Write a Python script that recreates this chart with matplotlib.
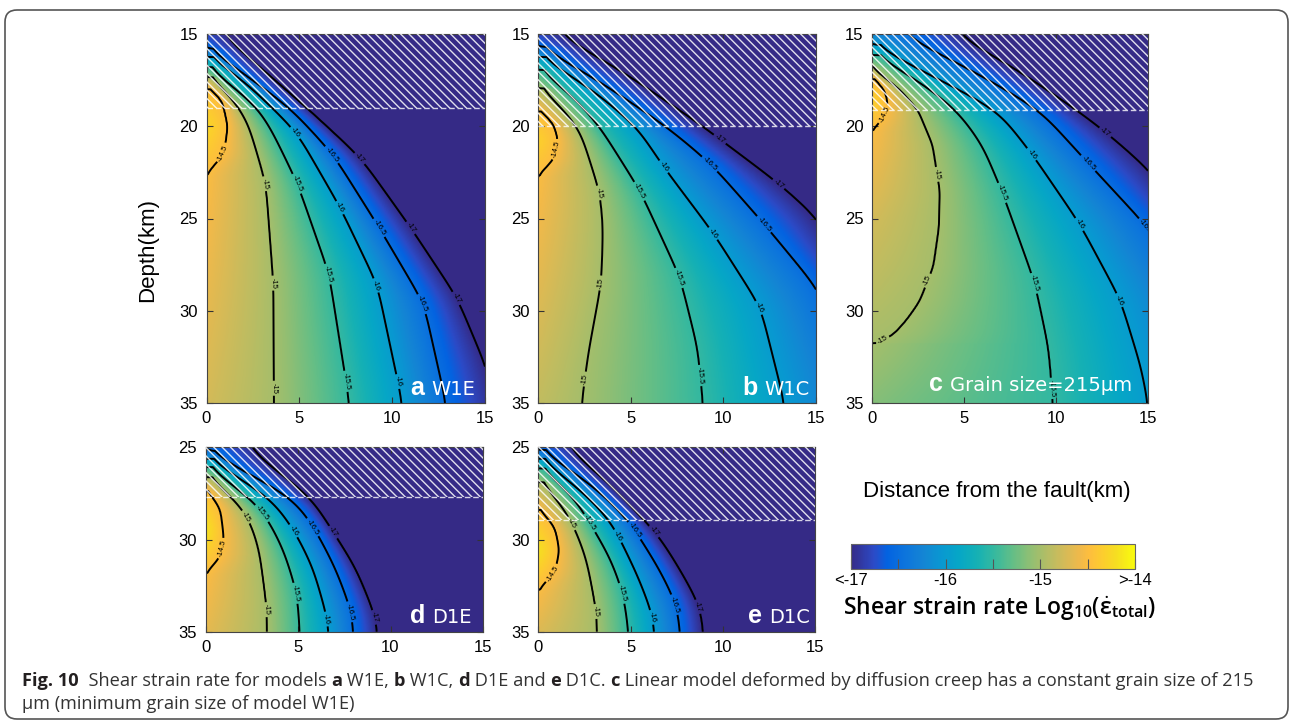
import numpy as np
import matplotlib.pyplot as plt
from matplotlib.colors import LinearSegmentedColormap
from matplotlib.patches import Rectangle, FancyBboxPatch
from matplotlib.transforms import IdentityTransform

plt.rcParams['font.family'] = ['Liberation Sans', 'DejaVu Sans']
plt.rcParams['hatch.linewidth'] = 1.0
plt.rcParams['mathtext.default'] = 'regular'
plt.rcParams['contour.negative_linestyle'] = 'solid'

W, H = 1290, 721
LEVELS = [-17.0, -16.5, -16.0, -15.5, -15.0, -14.5]

# parula (MATLAB) colour anchors
parula_pos = [0, 5, 8, 12, 16, 20, 24, 28, 32, 36, 40, 44, 48, 51, 53, 56, 59, 63]
parula_rgb = [(0.2081, 0.1663, 0.5292), (0.1707, 0.2919, 0.7792), (0.0117, 0.3875, 0.8820),
              (0.0498, 0.4586, 0.8641), (0.0793, 0.5200, 0.8312), (0.0343, 0.5966, 0.8199),
              (0.0228, 0.6535, 0.7768), (0.0843, 0.6928, 0.7062), (0.2178, 0.7250, 0.6193),
              (0.3953, 0.7459, 0.5244), (0.5709, 0.7485, 0.4494), (0.7184, 0.7411, 0.3905),
              (0.8507, 0.7299, 0.3360), (0.9450, 0.7261, 0.2886), (0.9938, 0.7455, 0.2403),
              (0.9880, 0.8066, 0.1794), (0.9626, 0.8705, 0.1309), (0.9763, 0.9831, 0.0538)]

# --- values: strain rate at the fault (x=0) vs depth,
# --- and each contour as (depths, distances)
w1e_edge_z = [15, 15.8, 16.2, 16.8, 17.3, 17.8, 20.0, 22.6, 35]
w1e_edge_v = [-16.8, -16.5, -16.0, -15.5, -15.0, -14.5, -14.25, -14.5, -14.75]
w1e_lines = {
    -14.5: ([17.8, 18.6, 20.0, 21.5, 22.6], [0, 0.85, 1.15, 0.95, 0]),
    -15.0: ([17.3, 18.2, 19.7, 23.1, 28.5, 35], [0, 1.2, 2.2, 3.2, 3.6, 3.64]),
    -15.5: ([16.8, 18.0, 18.9, 20.2, 23.1, 28.0, 35], [0, 1.6, 2.7, 3.5, 4.9, 6.6, 7.7]),
    -16.0: ([16.2, 17.5, 20.3, 24.4, 28.6, 35], [0, 2.0, 4.85, 7.2, 9.2, 10.55]),
    -16.5: ([15.8, 17.0, 19.0, 21.5, 25.5, 29.6, 35], [0, 1.8, 4.5, 6.8, 9.3, 11.7, 12.9]),
    -17.0: ([15, 19.0, 21.7, 25.5, 29.3, 32.9, 36], [0.8, 5.4, 8.3, 11.0, 13.5, 15.0, 15.8]),
}

w1c_edge_z = [15, 15.7, 16.2, 16.9, 17.9, 19.1, 20.75, 22.65, 35]
w1c_edge_v = [-16.8, -16.5, -16.0, -15.5, -15.0, -14.5, -14.3, -14.5, -14.85]
w1c_lines = {
    -14.5: ([19.1, 19.8, 20.75, 21.8, 22.65], [0, 0.8, 1.08, 0.85, 0]),
    -15.0: ([17.9, 19.0, 20.2, 23.6, 25.5, 28.5, 32.3, 35], [0, 1.3, 2.25, 3.33, 3.5, 3.4, 2.7, 2.34]),
    -15.5: ([16.9, 18.5, 20.0, 23.5, 28.2, 32.0, 35], [0, 2.0, 3.3, 5.5, 7.66, 8.6, 8.9]),
    -16.0: ([16.2, 18.0, 20.0, 22.2, 25.8, 29.8, 35], [0, 2.9, 5.3, 6.76, 9.46, 12.0, 13.3]),
    -16.5: ([15.7, 17.5, 20.0, 22.0, 25.3, 28.7, 33, 36], [0, 3.2, 6.9, 9.3, 12.2, 15.0, 17, 18]),
    -17.0: ([15, 17.0, 20.0, 20.7, 23.1, 24.9, 30, 36], [1.0, 4.5, 8.9, 9.8, 13.0, 15.0, 18, 21]),
}

grain_edge_z = [15, 15.6, 16.1, 16.8, 17.3, 18.6, 20.2, 25, 31.8, 35]
grain_edge_v = [-16.2, -16.0, -15.5, -15.0, -14.5, -14.3, -14.5, -14.75, -15.0, -15.15]
grain_lines = {
    -14.5: ([17.3, 18.0, 18.8, 19.6, 20.2], [0, 0.7, 0.9, 0.65, 0]),
    -15.0: ([16.8, 18.0, 19.1, 21.0, 23.5, 25.5, 27.6, 29.5, 30.5, 31.5, 31.8],
            [0, 1.5, 2.5, 3.3, 3.7, 3.65, 3.35, 2.6, 1.9, 1.0, 0]),
    -15.5: ([16.1, 17.5, 19.1, 21.0, 23.6, 28.5, 32, 35], [0, 2.5, 4.6, 6.0, 7.1, 8.86, 9.6, 9.85]),
    -16.0: ([15.6, 17.5, 19.1, 21.5, 25.3, 29.4, 33, 36], [0, 3.7, 6.8, 8.7, 11.3, 13.5, 14.6, 15.2]),
    -16.5: ([15, 17.0, 19.1, 22.0, 25.5, 30, 36], [1.5, 5.5, 9.1, 11.75, 15.0, 18, 21]),
    -17.0: ([15, 17.0, 19.1, 20.3, 22.3, 27, 36], [4.5, 8.0, 11.1, 12.7, 15.0, 18.5, 24]),
}

d1e_edge_z = [25, 25.2, 25.6, 26.05, 26.6, 27.2, 29.5, 31.8, 35]
d1e_edge_v = [-16.6, -16.5, -16.0, -15.5, -15.0, -14.5, -14.15, -14.5, -14.65]
d1e_lines = {
    -14.5: ([27.2, 28.3, 30.0, 31.0, 31.8], [0, 0.8, 1.0, 0.8, 0]),
    -15.0: ([26.6, 27.7, 28.7, 30.5, 33.8, 35], [0, 1.5, 2.3, 2.9, 3.33, 3.33]),
    -15.5: ([26.05, 27.7, 28.5, 30.5, 32.9, 35], [0, 2.4, 3.15, 4.2, 4.95, 5.1]),
    -16.0: ([25.6, 27.7, 29.5, 31.5, 34.3, 35], [0, 3.5, 4.8, 5.8, 6.6, 6.67]),
    -16.5: ([25.2, 27.7, 29.3, 31.5, 33.9, 35], [0, 4.7, 5.85, 7.0, 7.9, 8.0]),
    -17.0: ([25, 27.7, 29.6, 31.5, 34.2, 35], [2.2, 5.7, 6.9, 8.1, 9.2, 9.3]),
}

d1c_edge_z = [25, 25.15, 25.6, 26.1, 26.8, 28.3, 30.6, 32.7, 35]
d1c_edge_v = [-16.7, -16.5, -16.0, -15.5, -15.0, -14.5, -14.15, -14.5, -14.7]
d1c_lines = {
    -14.5: ([28.3, 29.3, 30.6, 31.8, 32.7], [0, 0.9, 1.15, 0.9, 0]),
    -15.0: ([26.8, 28.0, 29.1, 31.0, 33.9, 35], [0, 1.2, 1.86, 2.6, 3.16, 3.2]),
    -15.5: ([26.1, 27.5, 29.1, 31.0, 32.9, 35], [0, 1.8, 2.8, 3.9, 4.6, 4.9]),
    -16.0: ([25.6, 27.3, 28.94, 29.8, 32.0, 34.2, 35], [0, 2.3, 3.9, 4.34, 5.4, 6.24, 6.3]),
    -16.5: ([25.15, 27.0, 28.94, 29.5, 31.5, 33.5, 35], [0, 2.9, 4.9, 5.24, 6.5, 7.5, 7.7]),
    -17.0: ([25, 27.0, 28.94, 29.5, 31.5, 33.6, 35], [1.5, 3.9, 5.7, 6.33, 7.6, 8.77, 8.95]),
}

# where the contour labels sit (x km, depth km)
w1e_label_at = [(1.0, 21.5), (3.2, 23.1), (3.6, 28.5), (3.6, 34.2), (4.9, 23.1), (6.6, 28.0),
                (7.7, 33.8), (4.85, 20.3), (7.2, 24.4), (9.2, 28.6), (10.5, 33.8), (6.8, 21.5),
                (9.3, 25.5), (11.7, 29.6), (8.3, 21.7), (11.0, 25.5), (13.5, 29.3)]
w1c_label_at = [(0.55, 21.2), (3.33, 23.6), (3.4, 28.5), (2.5, 33.7), (5.5, 23.5), (7.66, 28.2),
                (8.9, 33.5), (6.76, 22.2), (9.46, 25.8), (12.0, 29.8), (9.3, 22.0), (12.2, 25.3),
                (9.8, 20.7), (13.0, 23.1)]
grain_label_at = [(0.55, 19.3), (3.6, 22.6), (3.1, 28.4), (0.6, 31.6), (7.1, 23.6), (8.86, 28.5),
                  (9.85, 34.2), (8.7, 21.5), (11.3, 25.3), (13.5, 29.4), (11.75, 22.0),
                  (14.8, 25.5), (12.7, 20.3)]
d1e_label_at = [(0.95, 30.5), (2.3, 28.7), (3.33, 33.8), (3.15, 28.5), (4.95, 32.9), (4.8, 29.5),
                (6.6, 34.3), (5.85, 29.3), (7.9, 33.9), (6.9, 29.6), (9.2, 34.2)]
d1c_label_at = [(0.85, 31.9), (1.86, 29.1), (3.16, 33.9), (2.8, 29.1), (4.6, 32.9), (4.34, 29.8),
                (6.24, 34.2), (5.24, 29.5), (7.5, 33.5), (6.33, 29.5), (8.77, 33.6)]

# panel: letter, name, top depth, base of hatched layer, pixel box, label anchor
panels = [
    ('a', 'W1E', 15, 19.0, (206.5, 34, 485, 403), (0.964, 0.022), w1e_edge_z, w1e_edge_v, w1e_lines, w1e_label_at),
    ('b', 'W1C', 15, 20.0, (538.3, 34, 816, 403), (0.978, 0.022), w1c_edge_z, w1c_edge_v, w1c_lines, w1c_label_at),
    ('c', 'Grain size=215μm', 15, 19.1, (871.7, 34, 1148, 403), (0.941, 0.033), grain_edge_z, grain_edge_v, grain_lines, grain_label_at),
    ('d', 'D1E', 25, 27.7, (205.5, 447.3, 483, 631.7), (0.959, 0.049), d1e_edge_z, d1e_edge_v, d1e_lines, d1e_label_at),
    ('e', 'D1C', 25, 28.94, (538.3, 447.3, 815, 631.7), (0.982, 0.049), d1c_edge_z, d1c_edge_v, d1c_lines, d1c_label_at),
]


def smooth(y, n):
    # gaussian running mean, edges held
    if n < 1 or len(y) < 3:
        return y
    k = np.exp(-0.5 * (np.arange(-3 * n, 3 * n + 1) / n) ** 2)
    k /= k.sum()
    return np.convolve(np.pad(y, 3 * n, mode='edge'), k, mode='valid')


def strain_field(x, z, edge_z, edge_v, lines):
    # rebuild the field row by row from the contour crossings
    dz = z[1] - z[0]
    v0 = smooth(np.interp(z, edge_z, edge_v), int(0.25 / dz))
    cross = {}
    for lev, (cz, cx) in lines.items():
        inside = (z >= cz[0]) & (z <= cz[-1])
        xs = np.full(len(z), np.nan)
        sig = 0.3 if lev == -14.5 or cx[-1] == 0 else 0.7
        xs[inside] = smooth(np.interp(z[inside], cz, cx), int(sig / dz))
        cross[lev] = xs
    F = np.empty((len(z), len(x)))
    for i in range(len(z)):
        px, pv = [0.0], [v0[i]]
        for lev in sorted(lines, reverse=True):
            xi = cross[lev][i]
            if lev < v0[i] and not np.isnan(xi):
                px.append(max(xi, px[-1] + 1e-3))
                pv.append(lev)
        px.append(px[-1] + 4.0)
        pv.append(pv[-1] - 1.0)
        F[i] = np.interp(x, px, pv)
    return F


parula = LinearSegmentedColormap.from_list(
    'parula', [(p / 63, c) for p, c in zip(parula_pos, parula_rgb)])

fig = plt.figure(figsize=(12.9, 7.21), dpi=100)


def px_axes(x0, y0, x1, y1):
    return fig.add_axes([x0 / W, 1 - y1 / H, (x1 - x0) / W, (y1 - y0) / H])


for letter, name, ztop, zhatch, box, lab, ez, ev, lines, label_at in panels:
    ax = px_axes(*box)
    x = np.linspace(0, 15, 301)
    z = np.linspace(ztop, 35, 401)
    F = strain_field(x, z, ez, ev, lines)
    im = ax.imshow(F, extent=(0, 15, 35, ztop), origin='upper', cmap=parula,
                   vmin=-17, vmax=-14, aspect='auto', interpolation='bilinear')
    cs = ax.contour(x, z, F, levels=LEVELS, colors='k', linewidths=1.4, linestyles='solid')
    ax.clabel(cs, fmt='%g', fontsize=5.5, inline=True, inline_spacing=2, manual=label_at)
    ax.add_patch(Rectangle((0, ztop), 15, zhatch - ztop, fill=False, hatch='\\\\\\\\',
                           edgecolor=(1, 1, 1, 0.85), linewidth=0, zorder=3))
    ax.plot([0, 15], [zhatch, zhatch], color='white', lw=1, ls=(0, (4, 2)), alpha=0.8, zorder=4)
    ax.set_xlim(0, 15)
    ax.set_ylim(35, ztop)
    ax.set_xticks([0, 5, 10, 15])
    ax.set_yticks(np.arange(ztop, 35.1, 5))
    ax.tick_params(direction='in', top=True, right=True, length=4, labelsize=12,
                   color='#333333', pad=6)
    for s in ax.spines.values():
        s.set_edgecolor('#444444')
        s.set_linewidth(0.8)
    t = ax.text(lab[0], lab[1], name, transform=ax.transAxes, ha='right', va='baseline',
                color='white', fontsize=14, family='DejaVu Sans', zorder=5)
    ax.annotate(letter, xy=(0, lab[1]), xycoords=(t, 'axes fraction'), xytext=(-5, 0),
                textcoords='offset points', ha='right', va='baseline', color='white',
                fontsize=18, fontweight='bold', zorder=5)

fig.text(148 / W, 1 - 250 / H, 'Depth(km)', rotation=90, ha='center', va='center', fontsize=16)
fig.text(997 / W, 1 - 492 / H, 'Distance from the fault(km)', ha='center', va='center', fontsize=16)

cax = px_axes(851, 544, 1135, 569)
cb = fig.colorbar(im, cax=cax, orientation='horizontal')
cb.set_ticks([-17, -16.5, -16, -15.5, -15, -14.5, -14])
cb.set_ticklabels(['<-17', '', '-16', '', '-15', '', '>-14'])
cax.tick_params(direction='in', length=7, labelsize=12, color='#555555', pad=3)
cb.outline.set_edgecolor('#666666')
cb.outline.set_linewidth(0.8)
fig.text(1000 / W, 1 - 615 / H, r'Shear strain rate Log$_{10}$($\dot{\varepsilon}_{total}$)',
         ha='center', va='baseline', fontsize=16.5, family='Open Sans', fontweight='semibold')

# rounded frame round the whole figure
fig.patches.append(FancyBboxPatch((5, 2), 1283, 709, boxstyle='round,pad=0,rounding_size=12',
                                  transform=IdentityTransform(), fill=False,
                                  edgecolor='#555555', linewidth=1.2))

# caption with bold model letters
cap_font = ['Liberation Sans Narrow', 'Open Sans']
line1 = [('Fig. 10', True), ('  Shear strain rate for models ', False), ('a', True),
         (' W1E, ', False), ('b', True), (' W1C, ', False), ('d', True), (' D1E and ', False),
         ('e', True), (' D1C. ', False), ('c', True),
         (' Linear model deformed by diffusion creep has a constant grain size of 215', False)]
pieces = []
for txt, bold in line1:
    kw = dict(fontsize=12, family=cap_font, color='#231f20' if bold else '#333333',
              fontweight='bold' if bold else 'normal', va='baseline', ha='left')
    if not pieces:
        pieces.append(fig.text(22 / W, 1 - 686 / H, txt, **kw))
    else:
        pieces.append(fig.add_artist(plt.Annotation(
            txt, xy=(1, 1 - 686 / H), xycoords=(pieces[-1], 'figure fraction'), **kw)))
line2 = fig.text(22 / W, 1 - 709 / H, 'μm (minimum grain size of model W1E)', fontsize=12,
                 family=cap_font, color='#333333', va='baseline', ha='left')

fig.canvas.draw()
r = fig.canvas.get_renderer()
width = pieces[-1].get_window_extent(r).x1 - pieces[0].get_window_extent(r).x0
scale = (1250 - 22) / width
for p in pieces + [line2]:
    p.set_fontsize(12 * scale)

fig.savefig('out.png', dpi=100)
